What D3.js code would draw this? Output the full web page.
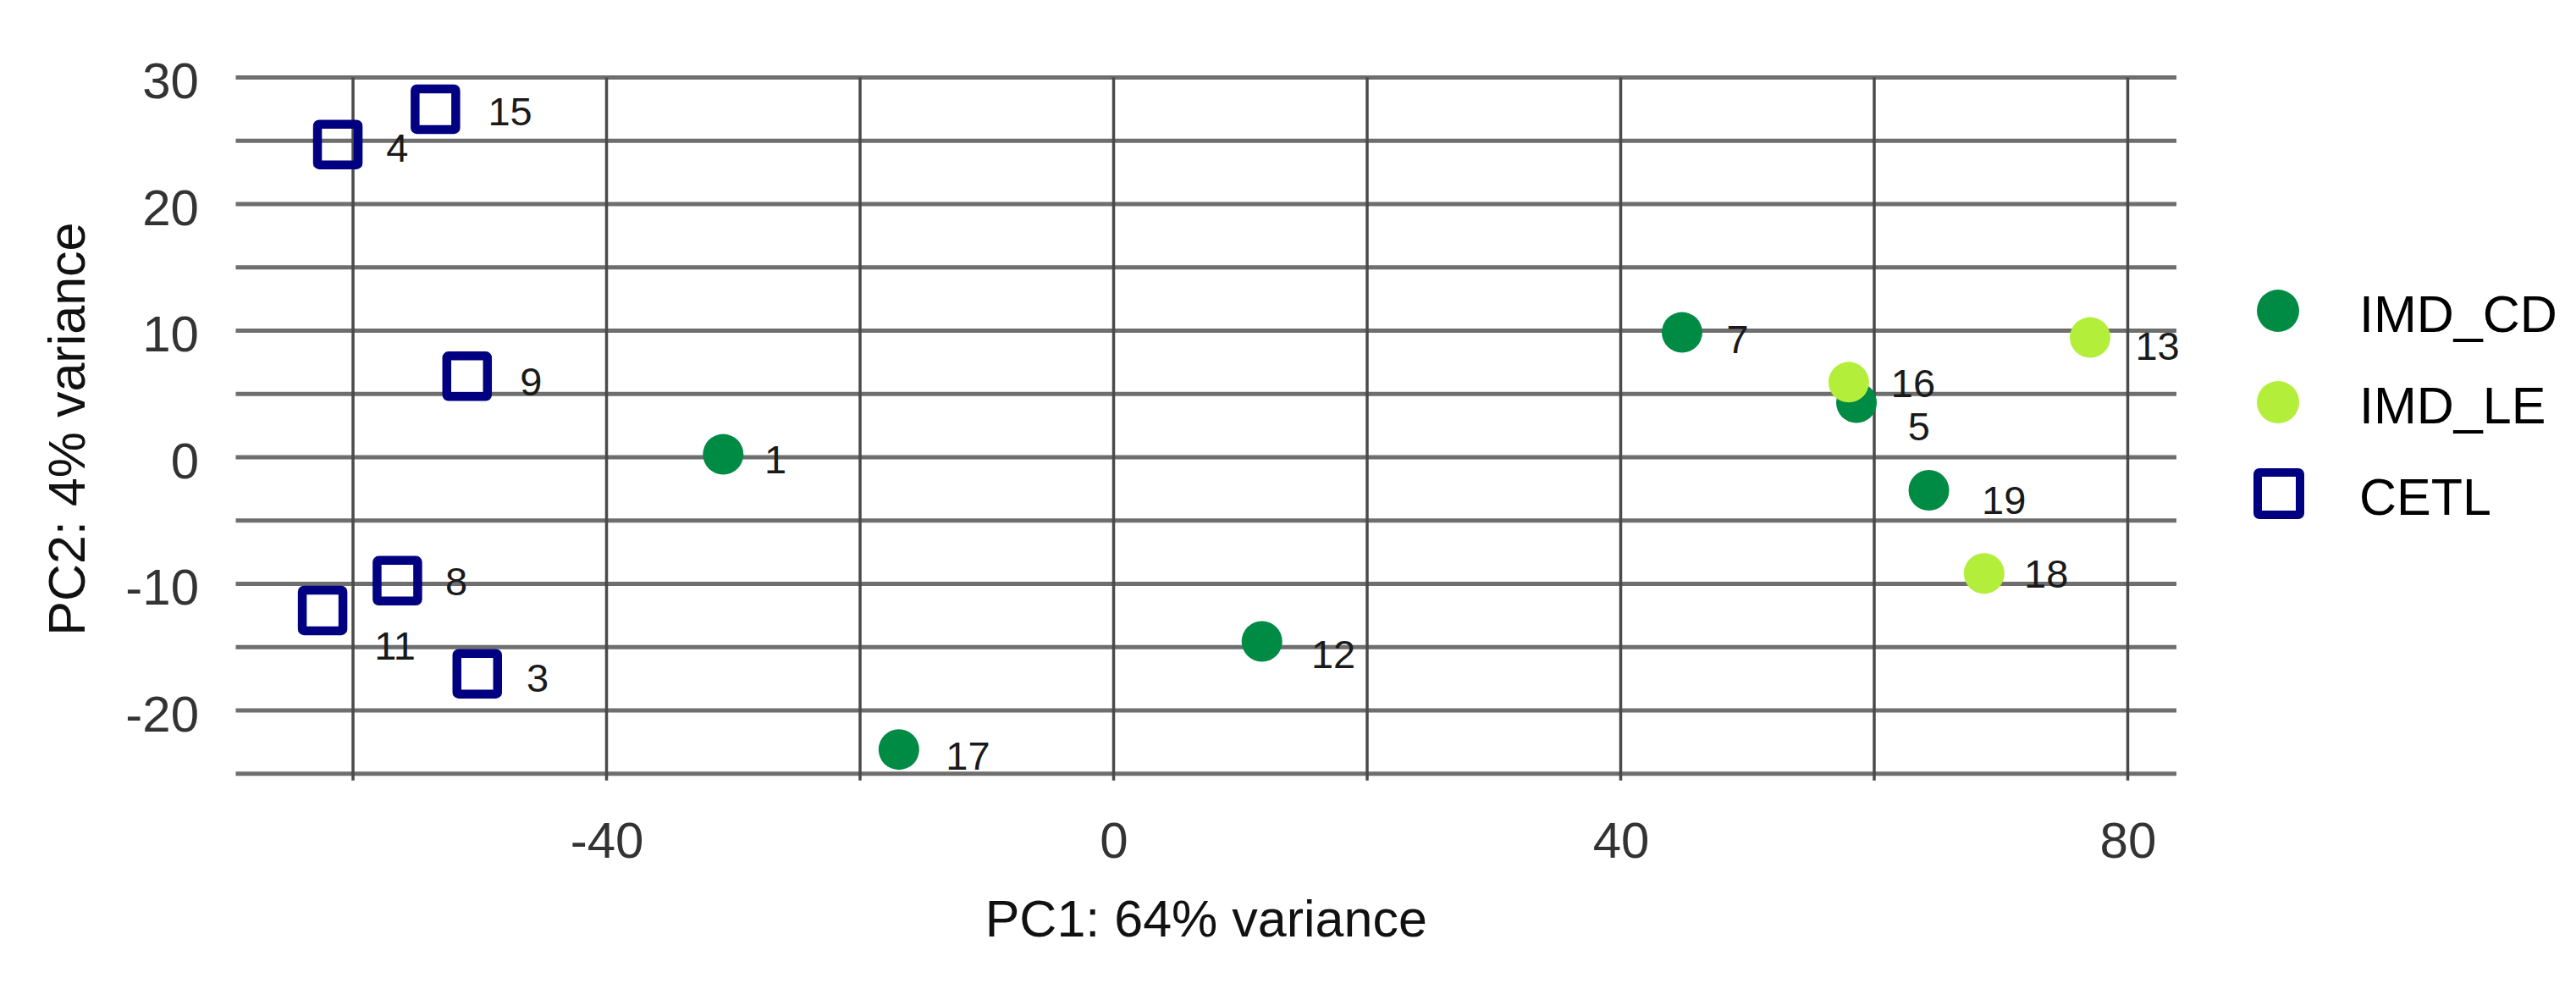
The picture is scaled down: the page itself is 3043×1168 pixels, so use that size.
<!DOCTYPE html>
<html>
<head>
<meta charset="utf-8">
<script src="https://cdn.jsdelivr.net/npm/d3@7"></script>
<style>
  html, body { margin: 0; padding: 0; background: #ffffff; }
  svg { display: block; }
  text { font-family: "Liberation Sans", Arial, Helvetica, sans-serif; }
</style>
</head>
<body>
<svg id="chart" width="3043" height="1168"></svg>
<script>
// ---------------- data ----------------
const groups = ["IMD_CD", "IMD_LE", "CETL"];
const sampleIds   = ["1", "17", "12", "7", "5", "19", "16", "13", "18", "4", "15", "9", "8", "11", "3"];
const sampleGroup = ["IMD_CD","IMD_CD","IMD_CD","IMD_CD","IMD_CD","IMD_CD",
                     "IMD_LE","IMD_LE","IMD_LE",
                     "CETL","CETL","CETL","CETL","CETL","CETL"];
const pc1 = [-30.8, -16.94, 11.7, 44.84, 58.6, 64.31, 57.99, 77.03, 68.67, -61.2, -53.5, -51.0, -56.5, -62.4, -50.2];
const pc2 = [0.23, -23.09, -14.55, 9.86, 4.31, -2.61, 5.93, 9.46, -9.18, 24.7, 27.5, 6.4, -9.75, -12.1, -17.1];
// label anchor points (data units), as placed in the original figure
const labelPc1 = [-26.68, -11.49, 17.33, 49.22, 63.53, 70.23, 63.07, 82.34, 73.57, -56.51, -47.61, -45.96, -51.85, -56.69, -45.44];
const labelPc2 = [-0.15, -23.57, -15.54, 9.33, 2.50, -3.33, 5.91, 8.83, -9.14, 24.48, 27.38, 5.99, -9.79, -14.85, -17.39];

const xTickValues = [-40, 0, 40, 80];
const xGridValues = [-60, -40, -20, 0, 20, 40, 60, 80];
const yTickValues = [-20, -10, 0, 10, 20, 30];
const yGridValues = [-25, -20, -15, -10, -5, 0, 5, 10, 15, 20, 25, 30];
const xTitle = "PC1: 64% variance";
const yTitle = "PC2: 4% variance";

// ---------------- styles ----------------
const groupColor = { "IMD_CD": "#008B45", "IMD_LE": "#B3EE3A", "CETL": "#000080" };
const groupShape = { "IMD_CD": "circle", "IMD_LE": "circle", "CETL": "square" };

const points = sampleIds.map((id, i) => ({
  id, group: sampleGroup[i], x: pc1[i], y: pc2[i], lx: labelPc1[i], ly: labelPc2[i]
}));

const svg = d3.select("#chart");
svg.append("rect").attr("width", 3043).attr("height", 1168).attr("fill", "#ffffff");

const x = d3.scaleLinear().domain([-69.25, 83.84]).range([278.5, 2571]);
const y = d3.scaleLinear().domain([-25, 30]).range([913.75, 91.5]);

// grid: horizontal
const grid = svg.append("g");
grid.selectAll("line.h").data(yGridValues).join("line")
  .attr("class", "h")
  .attr("x1", x.range()[0]).attr("x2", x.range()[1])
  .attr("y1", d => y(d)).attr("y2", d => y(d))
  .attr("stroke", "#6e6e6e").attr("stroke-width", 5);
// grid: vertical (extend slightly below the bottom line like ticks)
grid.selectAll("line.v").data(xGridValues).join("line")
  .attr("class", "v")
  .attr("x1", d => x(d)).attr("x2", d => x(d))
  .attr("y1", y(30)).attr("y2", y(-25) + 8)
  .attr("stroke", "#4a4a4a").attr("stroke-width", 3.5);

const fmt = d => String(d);

// axes (labels only)
const yAxis = svg.append("g").attr("transform", "translate(235,0)")
  .call(d3.axisLeft(y).tickValues(yTickValues).tickSize(0).tickPadding(0).tickFormat(fmt));
yAxis.select(".domain").remove();
yAxis.selectAll("text")
  .attr("dy", "0.40em")
  .style("font-size", "60px").attr("fill", "#333333");

const xAxis = svg.append("g").attr("transform", "translate(0,1013)")
  .call(d3.axisBottom(x).tickValues(xTickValues).tickSize(0).tickPadding(0).tickFormat(fmt));
xAxis.select(".domain").remove();
xAxis.selectAll("text")
  .attr("y", 0).attr("dy", 0)
  .style("font-size", "60px").attr("fill", "#333333");

// axis titles
svg.append("text")
  .attr("x", (x.range()[0] + x.range()[1]) / 2).attr("y", 1106)
  .attr("text-anchor", "middle")
  .style("font-size", "61px").attr("fill", "#111111")
  .text(xTitle);
svg.append("text")
  .attr("transform", `translate(100,${(y.range()[0] + y.range()[1]) / 2 + 4}) rotate(-90)`)
  .attr("text-anchor", "middle")
  .style("font-size", "61px").attr("fill", "#111111")
  .text(yTitle);

// points
const order = ["CETL", "IMD_CD", "IMD_LE"];
const marks = svg.append("g");
order.forEach(g => {
  const pts = points.filter(p => p.group === g);
  if (groupShape[g] === "circle") {
    marks.selectAll(null).data(pts).join("circle")
      .attr("cx", d => x(d.x)).attr("cy", d => y(d.y)).attr("r", 24)
      .attr("fill", groupColor[g]);
  } else {
    const s = 48;
    marks.selectAll(null).data(pts).join("rect")
      .attr("x", d => x(d.x) - s / 2).attr("y", d => y(d.y) - s / 2)
      .attr("width", s).attr("height", s).attr("rx", 2)
      .attr("fill", "none").attr("stroke", groupColor[g]).attr("stroke-width", 10.5)
      .attr("stroke-linejoin", "round");
  }
});

// point labels
svg.append("g").selectAll("text").data(points).join("text")
  .attr("x", d => x(d.lx)).attr("y", d => y(d.ly))
  .attr("dy", "0.36em")
  .attr("text-anchor", "middle")
  .style("font-size", "47px").attr("fill", "#1a1a1a")
  .text(d => d.id);

// legend
const legendY = d3.scalePoint().domain(groups).range([367, 583]);
const legend = svg.append("g");
groups.forEach(g => {
  const cy = legendY(g);
  if (groupShape[g] === "circle") {
    legend.append("circle").attr("cx", 2691).attr("cy", cy).attr("r", 25).attr("fill", groupColor[g]);
  } else {
    const s = 50;
    legend.append("rect").attr("x", 2692 - s / 2).attr("y", cy - s / 2)
      .attr("width", s).attr("height", s).attr("rx", 2)
      .attr("fill", "none").attr("stroke", groupColor[g]).attr("stroke-width", 10);
  }
  legend.append("text").attr("x", 2787).attr("y", cy + 25)
    .style("font-size", "61px").attr("fill", "#000000")
    .text(g);
});
</script>
</body>
</html>
